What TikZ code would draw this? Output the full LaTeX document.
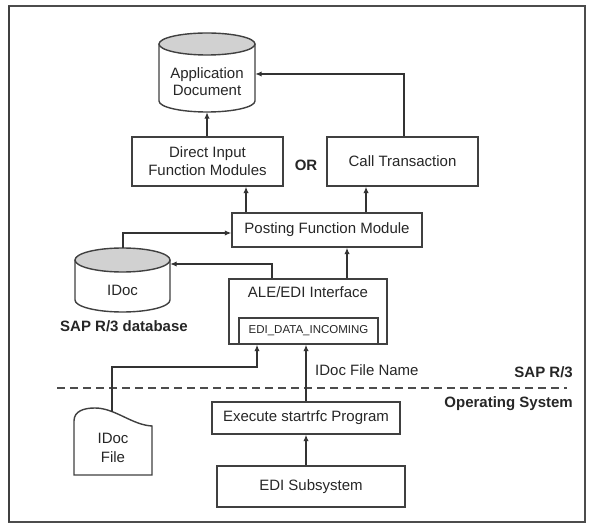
\documentclass[tikz,border=0pt]{standalone}
\usepackage{fontspec}
\setmainfont{Liberation Sans}
\usetikzlibrary{arrows.meta}
\begin{document}
\begin{tikzpicture}[x=1pt,y=-1pt,
  box/.style={draw=black!75, line width=1.4pt, rectangle, inner sep=0pt, align=center,
    font=\fontsize{15}{18}\selectfont, text=black!85},
  arr/.style={draw=black!80, line width=1.3pt, -{Latex[length=6.5pt,width=5.5pt]}},
  lbl/.style={font=\fontsize{15}{18}\selectfont, text=black!85, inner sep=0pt, align=center},
  blbl/.style={font=\bfseries\fontsize{15}{18}\selectfont, text=black!85, inner sep=0pt},
  shp/.style={draw=black!75, line width=1.4pt},
  hold/.style={inner sep=0pt, rectangle}
  ]
\useasboundingbox (0,0) rectangle (594,529);
% frame
\draw[line width=1.5pt, black!70] (9,6) rectangle (585,522);
\draw[line width=2.5pt, black!75] (9,6) -- (9,522);

% dashed separator
\coordinate (d1) at (57,388);
\coordinate (d2) at (567,388);
\draw[line width=2.5pt, dash pattern=on 8pt off 5pt, black!70] (d1) -- (d2);

% Application Document cylinder
\node[hold, minimum width=96, minimum height=79] (app) at (207,72.5) {};
\draw[shp, fill=white] (159,44) -- (159,101) arc[start angle=180, end angle=0, x radius=48, y radius=11] -- (255,44);
\draw[shp, fill=black!18] (207,44) ellipse [x radius=48, y radius=11];
\node[lbl, font=\fontsize{15}{17}\selectfont] (apptxt) at (207,81.5) {Application\\Document};

% boxes
\node[box, minimum width=151, minimum height=49] (di) at (207.5,161.5) {Direct Input\\Function Modules};
\node[box, minimum width=151, minimum height=49] (ct) at (402.5,161.5) {Call Transaction};
\node[blbl] (or) at (306,165) {OR};
\node[box, minimum width=190, minimum height=34] (post) at (327,230) {Posting Function Module};

% IDoc cylinder
\node[hold, minimum width=95, minimum height=64] (idoc) at (122.5,280) {};
\draw[shp, fill=white] (75,260) -- (75,300) arc[start angle=180, end angle=0, x radius=47.5, y radius=12] -- (170,260);
\draw[shp, fill=black!18] (122.5,260) ellipse [x radius=47.5, y radius=12];
\node[lbl] (idoctxt) at (122.5,290) {IDoc};
\node[blbl] (db) at (124,326) {SAP R/3 database};

% ALE/EDI interface
\node[box, minimum width=158, minimum height=65] (ale) at (308,311.5) {};
\node[lbl] (aletxt) at (308,292) {ALE/EDI Interface};
\node[box, minimum width=139, minimum height=26, font=\fontsize{11.5}{13}\selectfont] (edi) at (308.5,331) {EDI\_DATA\_INCOMING};

% operating system side
\node[box, minimum width=188, minimum height=32] (exe) at (306,418) {Execute startrfc Program};
\node[box, minimum width=188, minimum height=41] (sub) at (311,486.5) {EDI Subsystem};

% IDoc File shape
\node[hold, minimum width=78, minimum height=67] (file) at (113,441.5) {};
\draw[shp, fill=white] (74,475) -- (74,421) .. controls (74,411) and (84,408) .. (95,408)
  .. controls (115,408) and (132,425) .. (152,426) -- (152,475) -- cycle;
\node[lbl, font=\fontsize{15}{19}\selectfont] (filetxt) at (113,447.5) {IDoc\\File};

% labels
\node[lbl, anchor=west] (fname) at (315,370) {IDoc File Name};
\node[blbl, anchor=east] (sap) at (573,372) {SAP R/3};
\node[blbl, anchor=east] (os) at (573,404) {Operating System};

% connectors
\coordinate (k1) at (404,74);
\coordinate (k2) at (246,0);
\coordinate (k3) at (366,0);
\coordinate (k4) at (123,233);
\coordinate (k5) at (272,264);
\coordinate (k6) at (347,0);
\coordinate (k7) at (257,367);
\coordinate (ftop) at (112,412);

\draw[arr] (di.north -| app.south) -- (app.south);
\draw[arr] (ct.north -| k1) |- (app.east |- k1);
\draw[arr] (post.north -| k2) -- (di.south -| k2);
\draw[arr] (post.north -| k3) -- (ct.south -| k3);
\draw[arr] (idoc.north -| k4) |- (post.west |- k4);
\draw[arr] (ale.north -| k5) |- (idoc.east |- k5);
\draw[arr] (ale.north -| k6) -- (post.south -| k6);
\draw[arr] (ftop) |- (k7) -- (ale.south -| k7);
\draw[arr] (exe.north) -- (ale.south -| exe.north);
\draw[arr] (sub.north -| exe.south) -- (exe.south);
\end{tikzpicture}
\end{document}
